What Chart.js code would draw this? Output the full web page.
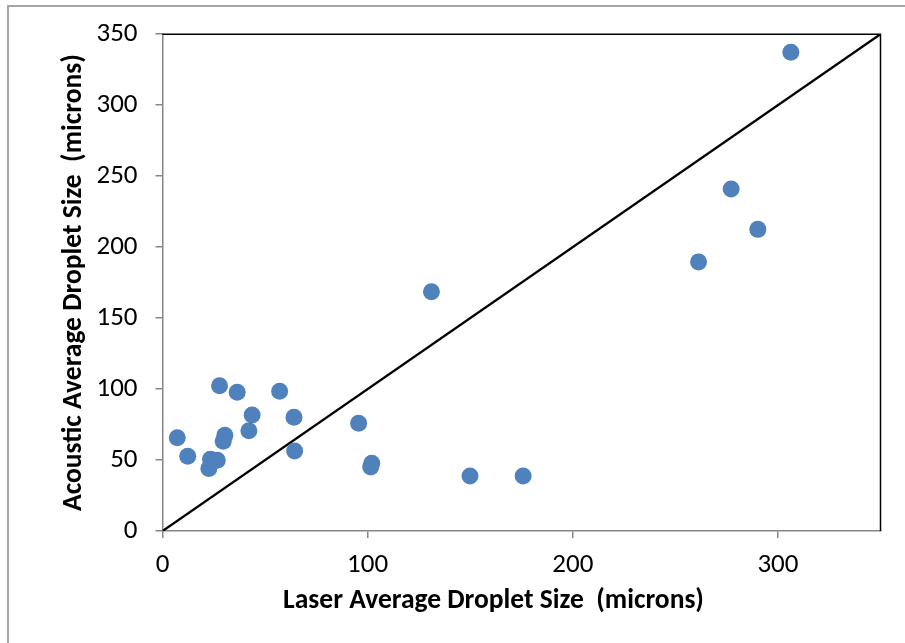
<!DOCTYPE html>
<html>
<head>
<meta charset="utf-8">
<script src="https://cdn.jsdelivr.net/npm/chart.js@4.4.1/dist/chart.umd.min.js"></script>
<style>
  html,body{margin:0;padding:0;background:#fff;overflow:hidden;}
  #frame{position:absolute;left:7px;top:5px;width:1000px;height:1000px;border:2px solid #a6a6a6;box-sizing:border-box;}
  #chart{position:absolute;left:0;top:0;}
</style>
</head>
<body>
<div id="frame"></div>
<canvas id="chart" width="905" height="643"></canvas>
<script>
// Datos (micrones)
const laserSize = [
  7.2, 12.3, 27.8, 36.4, 57.1, 43.7, 64.1, 42.1, 30.4, 29.6, 23.4, 26.7,
  22.6, 64.4, 95.6, 102.0, 101.5, 149.9, 175.8, 131.1, 277.2, 290.2, 261.3, 306.3
];
const acousticSize = [
  65.7, 52.6, 102.4, 97.7, 98.4, 81.8, 80.2, 70.6, 67.5, 63.3, 50.5, 49.8,
  44.0, 56.3, 75.9, 47.7, 45.1, 38.8, 38.8, 168.5, 241.0, 212.5, 189.6, 337.3
];
// Línea 1:1
const lineX = [0, 350];
const lineY = [0, 350];

// Marcas de los ejes
const xTicks = [0, 100, 200, 300];
const yTicks = [0, 50, 100, 150, 200, 250, 300, 350];

const xTitle = 'Laser Average Droplet Size  (microns)';
const yTitle = 'Acoustic Average Droplet Size  (microns)';

const FONT = 'Carlito, Calibri, "Liberation Sans Narrow", "Open Sans", sans-serif';
const AXIS_GRAY = '#868686';

// Marco superior y derecho del área de trazado
const plotFrame = {
  id: 'plotFrame',
  beforeDatasetsDraw(chart){
    const {ctx, chartArea:a} = chart;
    ctx.save();
    ctx.strokeStyle = '#000';
    ctx.lineWidth = 1.5;
    ctx.beginPath();
    ctx.moveTo(a.left, a.top);
    ctx.lineTo(a.right, a.top);
    ctx.lineTo(a.right, a.bottom);
    ctx.stroke();
    ctx.restore();
  }
};

const points = laserSize.map((x,i)=>({x, y: acousticSize[i]}));
const diag = lineX.map((x,i)=>({x, y: lineY[i]}));

new Chart(document.getElementById('chart'), {
  type: 'scatter',
  data: {
    datasets: [
      {
        data: points,
        backgroundColor: '#4F81BD',
        borderWidth: 0,
        pointRadius: 8.5,
        pointHoverRadius: 8.5,
        order: 1
      },
      {
        type: 'line',
        data: diag,
        borderColor: '#000',
        borderWidth: 2.4,
        pointRadius: 0,
        fill: false,
        order: 2
      }
    ]
  },
  options: {
    responsive: false,
    animation: false,
    events: [],
    layout: { padding: { left: 0, top: 31, right: 24.5, bottom: 0 } },
    plugins: { legend: { display: false }, tooltip: { enabled: false } },
    scales: {
      x: {
        type: 'linear',
        min: 0, max: 350,
        afterFit: s => { s.height = 112; },
        afterBuildTicks: s => { s.ticks = xTicks.map(v => ({value: v})); },
        ticks: { color: '#000', font: { family: FONT, size: 27 }, padding: 11, maxRotation: 0 },
        grid: { display: true, drawOnChartArea: false, drawTicks: true, tickLength: 7, color: AXIS_GRAY, lineWidth: 1.5 },
        border: { display: true, color: AXIS_GRAY, width: 1.5 },
        // espacios finales: en el original el título está corrido a la izquierda
        title: { display: true, text: xTitle + '\u00a0'.repeat(9), color: '#000', font: { family: FONT, size: 27.5, weight: 'bold' }, padding: { top: 0, bottom: 25 } }
      },
      y: {
        type: 'linear',
        min: 0, max: 350,
        afterFit: s => { s.width = 162.5; },
        afterBuildTicks: s => { s.ticks = yTicks.map(v => ({value: v})); },
        ticks: { color: '#000', font: { family: FONT, size: 27 }, padding: 18 },
        grid: { display: true, drawOnChartArea: false, drawTicks: true, tickLength: 7, color: AXIS_GRAY, lineWidth: 1.5 },
        border: { display: true, color: AXIS_GRAY, width: 1.5 },
        title: { display: true, text: yTitle, color: '#000', font: { family: FONT, size: 27.5, weight: 'bold' }, padding: { top: 58, bottom: 0 } }
      }
    }
  },
  plugins: [plotFrame]
});
</script>
</body>
</html>
